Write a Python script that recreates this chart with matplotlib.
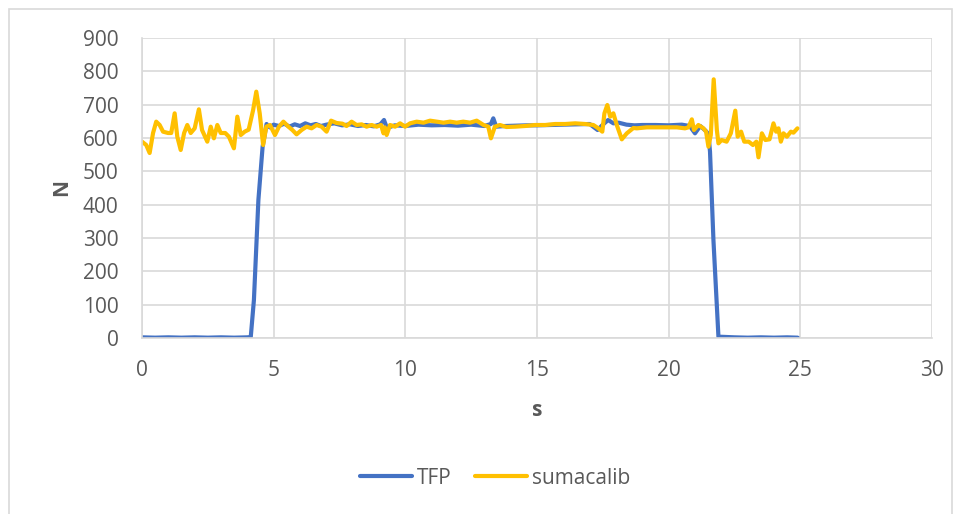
import matplotlib
matplotlib.use("Agg")
import matplotlib.pyplot as plt
from matplotlib.patches import Rectangle

# TFP force plate (s, N)
tfp_t = [0, 0.5, 1.0, 1.5, 2.0, 2.5, 3.0, 3.5, 4.0, 4.13,
         4.25, 4.42, 4.58, 4.73, 4.85,
         5.0, 5.2, 5.4, 5.6, 5.8,
         6.0, 6.2, 6.4, 6.6, 6.8,
         7.0, 7.3, 7.6, 7.9, 8.2,
         8.5, 8.8, 9.05, 9.19, 9.3,
         9.6, 10.0, 10.5, 11.0, 11.5,
         12.0, 12.5, 13.0, 13.25, 13.34,
         13.45, 13.8, 14.2, 14.6, 15.0,
         15.5, 16.0, 16.5, 17.0, 17.3,
         17.5, 17.7, 17.9, 18.1, 18.4,
         18.7, 19.0, 19.5, 20.0, 20.5,
         20.8, 21.0, 21.2, 21.4, 21.51,
         21.57, 21.70, 21.89, 22.5, 23.0,
         23.5, 24.0, 24.5, 24.9]
tfp_n = [2, 1, 2, 1, 2, 1, 2, 1, 2, 3,
         114, 414, 574, 642, 632,
         640, 636, 643, 634, 641,
         636, 644, 638, 642, 636,
         640, 644, 638, 641, 636,
         639, 635, 641, 654, 630,
         638, 636, 640, 638, 639,
         637, 640, 636, 642, 659,
         634, 636, 637, 638, 638,
         639, 640, 641, 642, 624,
         640, 654, 644, 646, 640,
         638, 639, 639, 638, 640,
         636, 614, 636, 622, 612,
         559, 294, 4, 2, 1,
         2, 1, 2, 1]

# sum of calibrated sensors (s, N)
suma_t = [0, 0.16, 0.29, 0.42, 0.54, 0.67, 0.80, 0.99, 1.11, 1.24,
          1.34, 1.47, 1.60, 1.72, 1.85, 2.00, 2.16, 2.28, 2.48, 2.61,
          2.73, 2.86, 2.99, 3.16, 3.30, 3.49, 3.62, 3.75, 3.90, 4.05,
          4.22, 4.34, 4.47, 4.60, 4.72, 4.86, 5.05, 5.20, 5.37, 5.56,
          5.71, 5.87, 6.06, 6.25, 6.44, 6.63, 6.82, 7.01, 7.18, 7.39,
          7.61, 7.77, 7.96, 8.15, 8.34, 8.53, 8.72, 8.91, 9.08, 9.17,
          9.22, 9.29, 9.42, 9.61, 9.80, 9.99, 10.18, 10.43, 10.69, 10.94,
          11.19, 11.45, 11.70, 11.95, 12.20, 12.46, 12.71, 12.97, 13.15, 13.25,
          13.40, 13.59, 13.84, 14.17, 14.55, 14.93, 15.31, 15.69, 16.07, 16.45,
          16.83, 17.14, 17.33, 17.48, 17.56, 17.67, 17.78, 17.90, 18.03, 18.22,
          18.41, 18.66, 18.79, 19.17, 19.55, 19.93, 20.31, 20.62, 20.75, 20.88,
          20.96, 21.13, 21.32, 21.42, 21.51, 21.60, 21.71, 21.83, 21.89, 22.01,
          22.20, 22.36, 22.53, 22.62, 22.75, 22.87, 23.04, 23.20, 23.33, 23.41,
          23.54, 23.67, 23.83, 23.98, 24.08, 24.17, 24.26, 24.36, 24.49, 24.64,
          24.74, 24.89]
suma_n = [589, 579, 555, 615, 649, 639, 619, 615, 615, 674,
          604, 564, 615, 639, 615, 629, 686, 624, 589, 634,
          599, 639, 615, 615, 604, 569, 664, 609, 619, 625,
          684, 739, 674, 579, 634, 639, 609, 634, 649, 634,
          624, 611, 624, 634, 629, 639, 634, 619, 652, 645,
          643, 636, 649, 639, 641, 634, 639, 634, 639, 614,
          632, 609, 639, 634, 644, 634, 644, 649, 646, 652,
          649, 646, 649, 646, 649, 646, 652, 639, 634, 599,
          634, 639, 633, 634, 636, 639, 639, 642, 642, 644,
          642, 639, 629, 619, 674, 699, 664, 674, 639, 596,
          614, 630, 629, 632, 632, 632, 632, 629, 632, 656,
          624, 639, 629, 619, 574, 609, 776, 624, 584, 594,
          589, 614, 682, 604, 619, 589, 589, 579, 589, 542,
          614, 594, 596, 644, 619, 629, 589, 614, 604, 619,
          616, 629]

x_ticks = [0, 5, 10, 15, 20, 25, 30]
y_ticks = [0, 100, 200, 300, 400, 500, 600, 700, 800, 900]

txt = "#595959"
grid = "#d9d9d9"
plt.rcParams["font.family"] = ["Open Sans", "DejaVu Sans"]

fig = plt.figure(figsize=(9.61, 5.14), dpi=100)
ax = fig.add_axes([142 / 961, 1 - 338 / 514, 790 / 961, 300 / 514])

ax.plot(tfp_t, tfp_n, color="#4472C4", lw=3.0, label="TFP",
        solid_joinstyle="round", solid_capstyle="round")
ax.plot(suma_t, suma_n, color="#FFC000", lw=3.0, label="sumacalib",
        solid_joinstyle="round", solid_capstyle="round")

ax.set_xlim(0, 30)
ax.set_ylim(0, 900)
ax.set_xticks(x_ticks)
ax.set_yticks(y_ticks)
ax.grid(True, color=grid, lw=1.2)
ax.set_axisbelow(True)
for s in ["top", "right"]:
    ax.spines[s].set_visible(False)
ax.spines["left"].set_color(grid)
ax.spines["bottom"].set_color(grid)
ax.spines["left"].set_linewidth(1.2)
ax.spines["bottom"].set_linewidth(1.2)
ax.tick_params(axis="both", length=0, labelsize=15, labelcolor=txt)
ax.tick_params(axis="y", pad=17)
ax.tick_params(axis="x", pad=16)

fig.text(62 / 961, 1 - 188 / 514, "N", rotation=90, ha="center", va="center",
         fontsize=15, fontweight="bold", color=txt)
fig.text(537 / 961, 1 - 410 / 514, "s", ha="center", va="center",
         fontsize=15, fontweight="bold", color=txt)

fig.legend(loc="center", bbox_to_anchor=(495 / 961, 1 - 478 / 514), ncol=2,
           frameon=False, fontsize=15, labelcolor=txt, handlelength=2.5,
           handletextpad=0.25, columnspacing=1.1)

fig.patches.append(Rectangle((9 / 961, -0.05), 943 / 961, 1.05 - 9 / 514,
                             transform=fig.transFigure, fill=False,
                             edgecolor="#d9d9d9", lw=1.2))

fig.savefig("out.png", dpi=100)
